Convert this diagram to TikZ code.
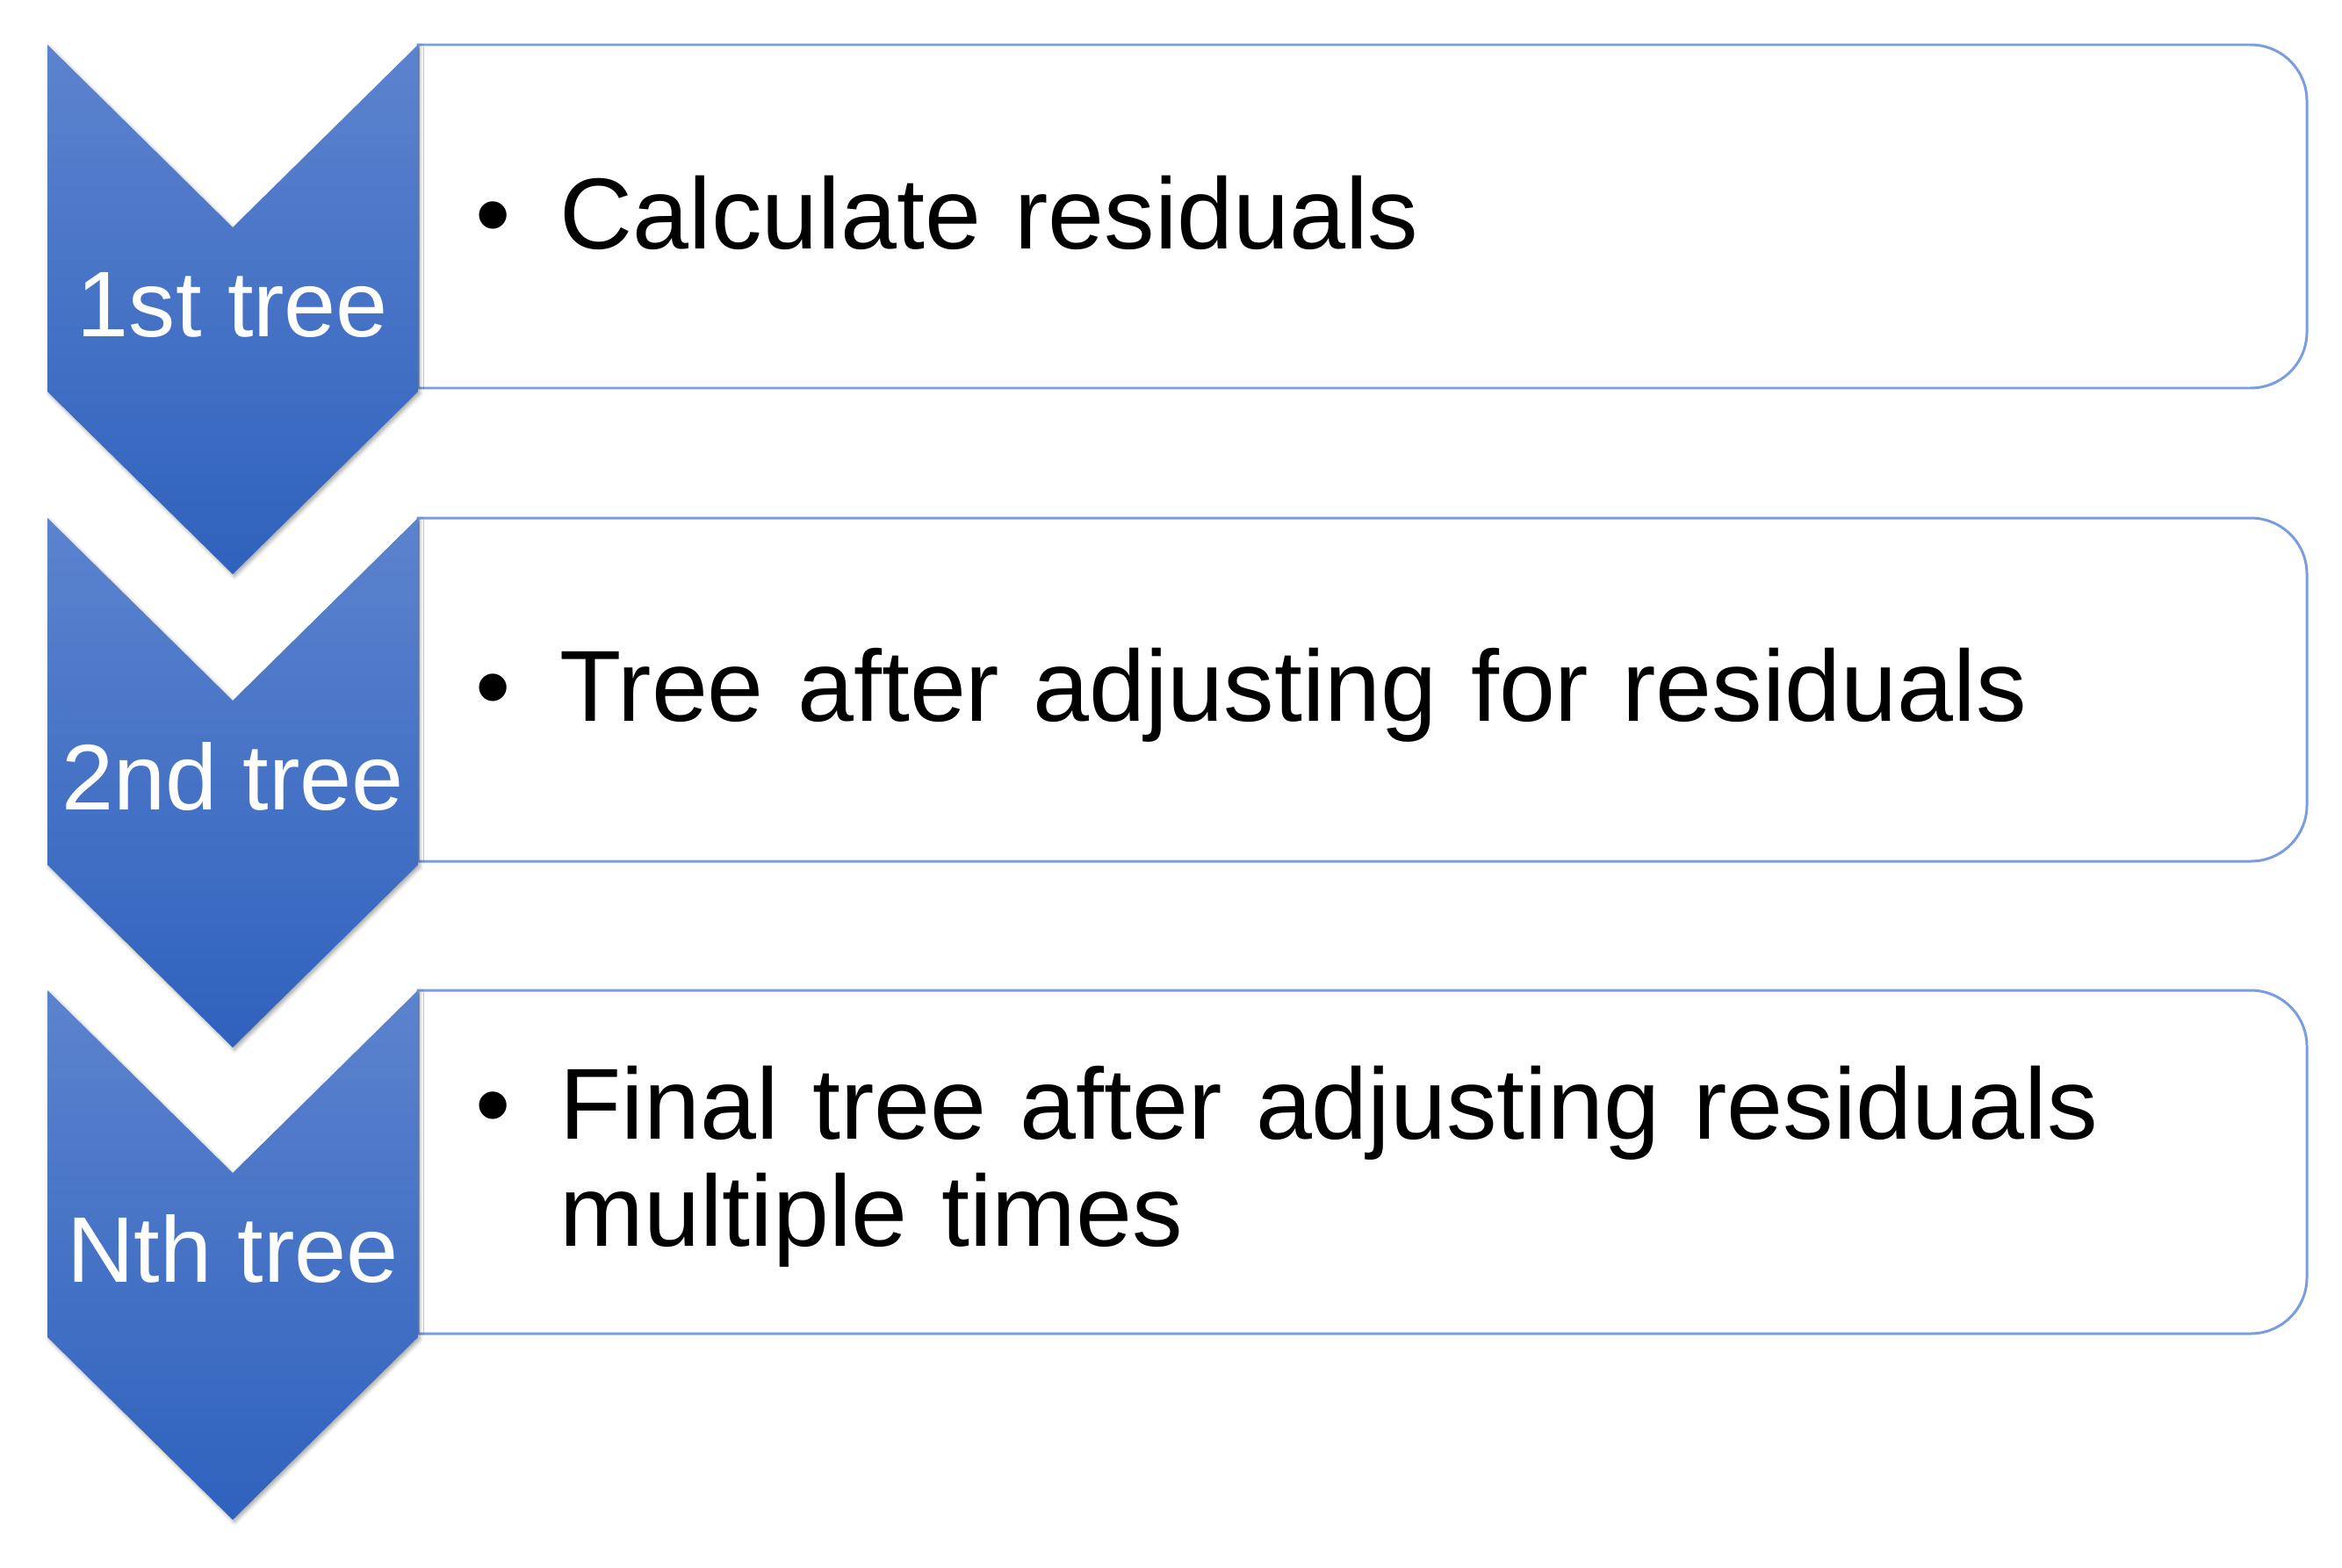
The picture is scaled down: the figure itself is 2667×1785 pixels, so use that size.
\documentclass[tikz,border=0pt]{standalone}
\usepackage{fontspec}
\setmainfont{Liberation Sans}
\usetikzlibrary{shadows.blur}
\definecolor{chevtop}{RGB}{92,131,206}
\definecolor{chevbot}{RGB}{47,98,189}
\definecolor{boxline}{RGB}{122,157,224}
\begin{document}
\begin{tikzpicture}[x=0.01cm,y=0.01cm,
  chev/.style={top color=chevtop,bottom color=chevbot,
    blur shadow={shadow xshift=0.6pt,shadow yshift=-0.8pt,shadow blur radius=1.2pt,shadow opacity=35}},
  boxframe/.style={draw=boxline,line width=0.85pt,fill=white},
  lbl/.style={text=white,font=\fontsize{30.2}{36}\selectfont,anchor=base,inner sep=0pt},
  bul/.style={font=\fontsize{32.7}{34.7}\selectfont,anchor=base,inner sep=0pt},
  txt/.style={font=\fontsize{32.7}{34.7}\selectfont,anchor=base west,inner sep=0pt,
    align=left,text width=19cm}]
\useasboundingbox (0,0) rectangle (2667,-1785);

% boxes
\draw[boxframe] (476,-51) -- (2563,-51) arc[start angle=90,end angle=0,radius=64]
  -- (2627,-378) arc[start angle=0,end angle=-90,radius=64] -- (476,-442) -- cycle;
\draw[boxframe] (476,-590) -- (2563,-590) arc[start angle=90,end angle=0,radius=64]
  -- (2627,-917) arc[start angle=0,end angle=-90,radius=64] -- (476,-981) -- cycle;
\draw[boxframe] (476,-1128) -- (2563,-1128) arc[start angle=90,end angle=0,radius=64]
  -- (2627,-1455) arc[start angle=0,end angle=-90,radius=64] -- (476,-1519) -- cycle;

% chevrons
\path[chev] (54,-51) -- (265,-259) -- (476,-51) -- (476,-446) -- (265,-654) -- (54,-446) -- cycle;
\path[chev] (54,-590) -- (265,-798) -- (476,-590) -- (476,-985) -- (265,-1193) -- (54,-985) -- cycle;
\path[chev] (54,-1128) -- (265,-1336) -- (476,-1128) -- (476,-1523) -- (265,-1731) -- (54,-1523) -- cycle;

% chevron labels
\node[lbl] (l1) at (265,-383) {1st tree};
\node[lbl] (l2) at (265,-922) {2nd tree};
\node[lbl] (l3) at (265,-1460) {Nth tree};

% box texts
\node[bul] (b1) at (562,-283) {•};
\node[txt] (t1) at (637,-283) {Calculate residuals};
\node[bul] (b2) at (562,-821) {•};
\node[txt] (t2) at (637,-821) {Tree after adjusting for residuals};
\node[bul] (b3) at (562,-1297) {•};
\node[txt] (t3) at (637,-1297) {Final tree after adjusting residuals\\multiple times};
\end{tikzpicture}
\end{document}
